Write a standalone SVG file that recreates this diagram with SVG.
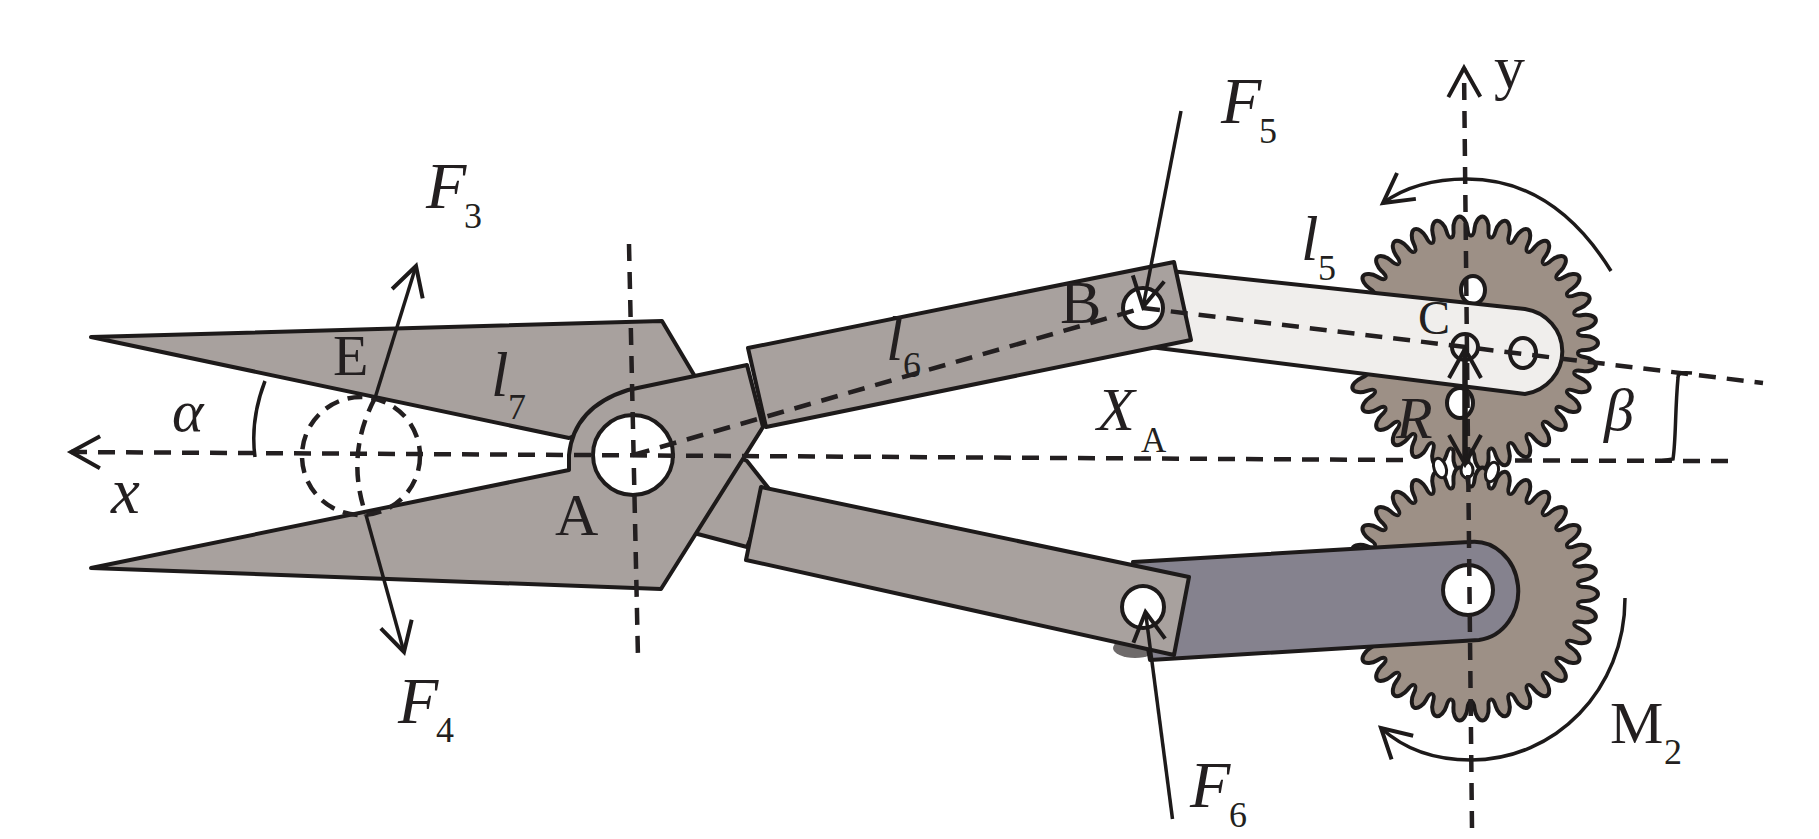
<svg xmlns="http://www.w3.org/2000/svg" width="1819" height="839" viewBox="0 0 1819 839">
<style>
.part{stroke:#1d1a1a;stroke-width:4;stroke-linejoin:round}
.steel{fill:#a8a19e}
.gearfill{fill:#9d9086}
.dash{fill:none;stroke:#231f20;stroke-width:4.5;stroke-dasharray:17 11}
.thin{fill:none;stroke:#1d1a1a;stroke-width:3.5}
.hole{fill:#fff;stroke:#1d1a1a;stroke-width:4}
.mesh{fill:#fff;stroke:#1d1a1a;stroke-width:3}
.t{font-family:"Liberation Serif","Times New Roman",serif;fill:#231f20}
.i{font-style:italic}
.f{font-size:66px}
.s{font-size:36px}
</style>
<defs>
<marker id="open" markerUnits="userSpaceOnUse" viewBox="-34 -19 38 38" refX="0" refY="0" markerWidth="38" markerHeight="38" orient="auto" overflow="visible">
<path d="M-29,-16 L0,0 L-29,16" fill="none" stroke="#1d1a1a" stroke-width="4"/>
</marker>
<path id="tooth" d="M-10,-107 C-7,-107 -7,-112 -7,-115 C-7,-120 -4,-127 0,-127 C4,-127 7,-120 7,-115 C7,-112 7,-107 10,-107" class="gearfill" stroke="#1d1a1a" stroke-width="4"/>
<g id="halfteeth">
<use href="#tooth" transform="rotate(5.29)"/><use href="#tooth" transform="rotate(15.88)"/><use href="#tooth" transform="rotate(26.47)"/><use href="#tooth" transform="rotate(37.06)"/><use href="#tooth" transform="rotate(47.65)"/><use href="#tooth" transform="rotate(58.24)"/><use href="#tooth" transform="rotate(68.82)"/><use href="#tooth" transform="rotate(79.41)"/><use href="#tooth" transform="rotate(90)"/><use href="#tooth" transform="rotate(100.59)"/><use href="#tooth" transform="rotate(111.18)"/><use href="#tooth" transform="rotate(121.76)"/><use href="#tooth" transform="rotate(132.35)"/><use href="#tooth" transform="rotate(142.94)"/><use href="#tooth" transform="rotate(153.53)"/><use href="#tooth" transform="rotate(164.12)"/><use href="#tooth" transform="rotate(174.71)"/>
</g>
<g id="gear">
<circle r="108" class="gearfill"/>
<use href="#halfteeth"/><use href="#halfteeth" transform="rotate(180)"/>
</g>
</defs>
<rect width="1819" height="839" fill="#fff"/>

<g id="gear-upper">
<use href="#gear" transform="translate(1471,343)"/>
<ellipse cx="1473" cy="290" rx="12" ry="14" class="hole"/>
<ellipse cx="1460" cy="403" rx="13" ry="15" class="hole"/>
</g>
<g id="gear-lower">
<use href="#gear" transform="translate(1471,594)"/>
<ellipse cx="1440" cy="468" rx="6" ry="10" transform="rotate(-20 1440 468)" class="mesh"/>
<ellipse cx="1467" cy="470" rx="6" ry="8" class="mesh"/>
<ellipse cx="1492" cy="472" rx="6" ry="10" transform="rotate(20 1492 472)" class="mesh"/>
</g>
<g id="link-lower">
<ellipse cx="1135" cy="648" rx="22" ry="10" fill="#6e6a6a"/>
<path class="part" fill="#85828e" d="M1133,562 L1469,542 A44,49 0 0 1 1479,640 L1150,660 Z"/>
<circle cx="1468" cy="590" r="25" class="hole"/>
</g>
<g id="link-upper">
<path class="part" fill="#f0eeec" d="M1170,271 L1525,309 A44,43 0 0 1 1525,394 L1150,347 Z"/>
<ellipse cx="1523" cy="353" rx="13" ry="15" fill="none" stroke="#1d1a1a" stroke-width="4"/>
<circle cx="1465" cy="347" r="13" fill="none" stroke="#1d1a1a" stroke-width="4"/>
</g>
<g id="blade-upper">
<path class="part steel" d="M91,337 L662,321 L700,385 L569,438 Z"/>
<path class="part steel" d="M690,532 L735,455 L747,461 L770,490 L747,547 Z"/>
</g>
<g id="blade-lower">
<path class="part steel" d="M91,568 L569,470 L569,455 C572,425 590,402 628,390 L747,365 L763,427 L661,589 Z"/>
<circle cx="633" cy="455" r="40" class="hole"/>
</g>
<g id="handle-upper">
<path class="part steel" d="M748,348 L1174,262 L1191,340 L766,427 Z"/>
<circle cx="1143" cy="308" r="20" class="hole"/>
</g>
<g id="handle-lower">
<path class="part steel" d="M761,487 L1189,577 L1174,655 L746,560 Z"/>
<circle cx="1143" cy="607" r="21" class="hole"/>
</g>

<g id="connectors">
<circle cx="361" cy="456" r="59" class="dash" style="stroke-dasharray:15 9"/>
<path class="dash" style="stroke-dasharray:15 9" d="M375,398 Q345,455 366,515"/>
<path class="dash" d="M1403,460 L71,452" marker-end="url(#open)"/>
<path class="dash" d="M1515,460.5 L1731,461"/>
<path class="dash" d="M629,244 L638,658"/>
<path class="dash" d="M633,455 L1143,308"/>
<path class="dash" d="M1143,308 L1763,383"/>
<path class="dash" d="M1472,828 L1464,68" marker-end="url(#open)"/>
<path class="thin" d="M375,398 L416,266" marker-end="url(#open)"/>
<path class="thin" d="M366,515 L404,652" marker-end="url(#open)"/>
<path class="thin" d="M1181,111 L1143,307" marker-end="url(#open)"/>
<path class="thin" d="M1172.5,819 L1145.5,612" marker-end="url(#open)"/>
<path class="thin" d="M1465,465 L1465,349" marker-end="url(#open)" style="stroke-width:5"/>
<path class="thin" d="M1465,350 L1465,464" marker-end="url(#open)" style="stroke-width:5"/>
<path class="thin" d="M1611,271 C1570,205 1520,179 1467,179 C1435,179 1405,187 1383,203" marker-end="url(#open)"/>
<path class="thin" d="M1625,598 C1625,690 1555,760 1471,760 C1435,760 1405,750 1381,728" marker-end="url(#open)"/>
<path class="thin" d="M265,381 Q250,420 255,457"/>
<path class="thin" d="M1692,373 C1680,372 1678,373 1678,378 C1675,410 1676,440 1673,459 L1660,461"/>
</g>

<g id="labels">
<text class="t i f" x="426" y="208">F</text><text class="t s" x="464" y="228">3</text>
<text class="t i f" x="398" y="723">F</text><text class="t s" x="436" y="742">4</text>
<text class="t i f" x="1221" y="123">F</text><text class="t s" x="1259" y="143">5</text>
<text class="t i f" x="1190" y="807">F</text><text class="t s" x="1229" y="827">6</text>
<text class="t" font-size="58" x="333" y="375">E</text>
<text class="t" font-size="60" x="555" y="535">A</text>
<text class="t" font-size="62" x="1060" y="323">B</text>
<text class="t" font-size="48" x="1418" y="334">C</text>
<text class="t i" font-size="60" x="1396" y="438">R</text>
<text class="t i" font-size="65" x="111" y="513">x</text>
<text class="t" font-size="62" x="1494" y="88">y</text>
<text class="t i" font-size="60" x="172" y="431">α</text>
<text class="t i" font-size="60" x="1604" y="430">β</text>
<text class="t i" font-size="62" x="1097" y="430">X</text><text class="t" font-size="35" x="1141" y="452">A</text>
<text class="t i" font-size="63" x="1301" y="260">l</text><text class="t s" x="1318" y="280">5</text>
<text class="t i" font-size="63" x="886" y="360">l</text><text class="t s" x="903" y="377">6</text>
<text class="t i" font-size="63" x="491" y="396">l</text><text class="t s" x="508" y="419">7</text>
<text class="t" font-size="60" x="1610" y="743">M</text><text class="t s" x="1664" y="764">2</text>
</g>
</svg>
